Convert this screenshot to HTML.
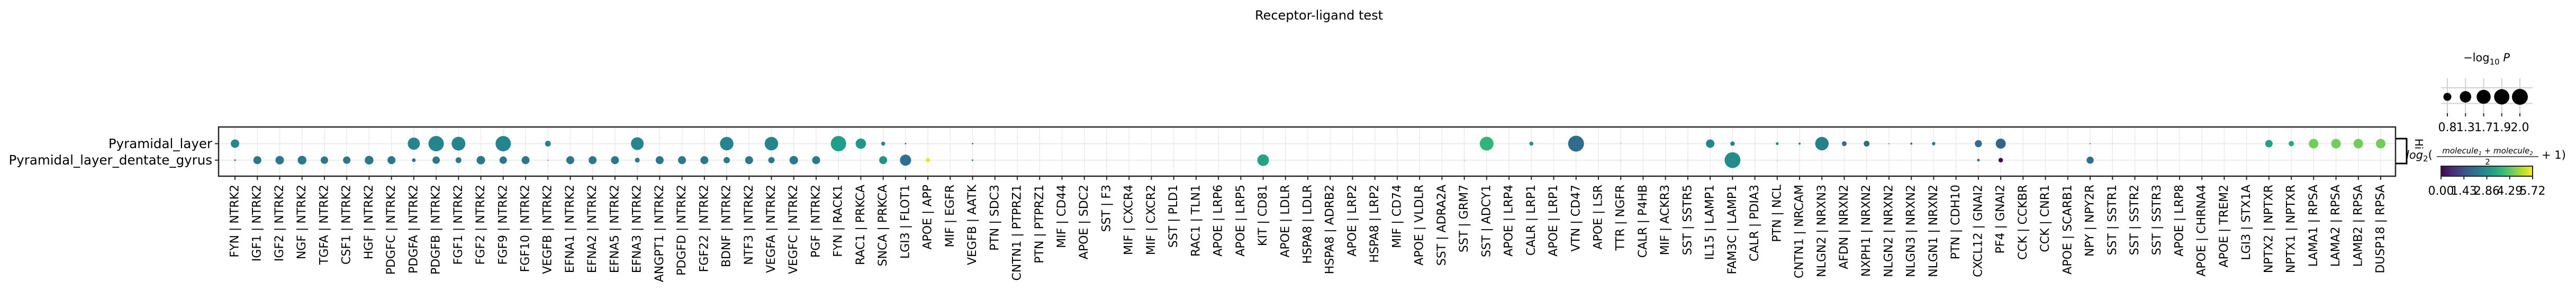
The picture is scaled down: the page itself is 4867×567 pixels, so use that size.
<!DOCTYPE html>
<html><head><meta charset="utf-8">
<style>
html,body{margin:0;padding:0;background:#fff;}
svg{display:block;font-family:"DejaVu Sans","Liberation Sans",sans-serif;}
</style></head>
<body>
<svg id="chart" width="4867" height="567" viewBox="0 0 4867 567" xmlns="http://www.w3.org/2000/svg">
<text x="2492" y="37" font-size="24" text-anchor="middle" fill="#000">Receptor-ligand test</text>
<g id="grid"></g>
<g id="dots"></g>
<rect x="413" y="240" width="4113" height="93" fill="none" stroke="#262626" stroke-width="2.5"/>
<g id="yaxis"></g>
<g id="xaxis"></g>
<g>
<polyline points="4527,262 4547,262 4547,309 4527,309" fill="none" stroke="#000" stroke-width="3"/>
<text transform="translate(4563,272) rotate(90)" font-size="20" text-anchor="middle">Hi</text>
</g>
<g id="size-legend">
<text x="4698" y="116" font-size="21" text-anchor="middle">−log<tspan font-size="15" dy="6">10</tspan><tspan dy="-6" font-style="italic"> P</tspan></text>
</g>
<g id="color-legend">
<text x="4546" y="300" font-size="21" font-style="italic">log<tspan font-style="normal" font-size="15" dy="5">2</tspan><tspan font-style="normal" dy="-5">(</tspan></text>
<text x="4700" y="290" font-size="15" font-style="italic" text-anchor="middle">molecule<tspan font-size="10" dy="3">1</tspan><tspan dy="-3" font-style="normal"> + </tspan>molecule<tspan font-size="10" dy="3">2</tspan></text>
<line x1="4604" y1="296" x2="4796" y2="296" stroke="#000" stroke-width="1.2"/>
<text x="4700" y="311" font-size="15" text-anchor="middle">2</text>
<text x="4802" y="300" font-size="21">+ 1)</text>
<defs><linearGradient id="vir" x1="0" x2="1" y1="0" y2="0"></linearGradient></defs>
<rect x="4612" y="314" width="173" height="19" fill="url(#vir)" stroke="#262626" stroke-width="2"/>
</g>
</svg>
<script>
const labels = ["FYN | NTRK2","IGF1 | NTRK2","IGF2 | NTRK2","NGF | NTRK2","TGFA | NTRK2","CSF1 | NTRK2","HGF | NTRK2","PDGFC | NTRK2","PDGFA | NTRK2","PDGFB | NTRK2","FGF1 | NTRK2","FGF2 | NTRK2","FGF9 | NTRK2","FGF10 | NTRK2","VEGFB | NTRK2","EFNA1 | NTRK2","EFNA2 | NTRK2","EFNA5 | NTRK2","EFNA3 | NTRK2","ANGPT1 | NTRK2","PDGFD | NTRK2","FGF22 | NTRK2","BDNF | NTRK2","NTF3 | NTRK2","VEGFA | NTRK2","VEGFC | NTRK2","PGF | NTRK2","FYN | RACK1","RAC1 | PRKCA","SNCA | PRKCA","LGI3 | FLOT1","APOE | APP","MIF | EGFR","VEGFB | AATK","PTN | SDC3","CNTN1 | PTPRZ1","PTN | PTPRZ1","MIF | CD44","APOE | SDC2","SST | F3","MIF | CXCR4","MIF | CXCR2","SST | PLD1","RAC1 | TLN1","APOE | LRP6","APOE | LRP5","KIT | CD81","APOE | LDLR","HSPA8 | LDLR","HSPA8 | ADRB2","APOE | LRP2","HSPA8 | LRP2","MIF | CD74","APOE | VLDLR","SST | ADRA2A","SST | GRM7","SST | ADCY1","APOE | LRP4","CALR | LRP1","APOE | LRP1","VTN | CD47","APOE | LSR","TTR | NGFR","CALR | P4HB","MIF | ACKR3","SST | SSTR5","IL15 | LAMP1","FAM3C | LAMP1","CALR | PDIA3","PTN | NCL","CNTN1 | NRCAM","NLGN2 | NRXN3","AFDN | NRXN2","NXPH1 | NRXN2","NLGN2 | NRXN2","NLGN3 | NRXN2","NLGN1 | NRXN2","PTN | CDH10","CXCL12 | GNAI2","PF4 | GNAI2","CCK | CCKBR","CCK | CNR1","APOE | SCARB1","NPY | NPY2R","SST | SSTR1","SST | SSTR2","SST | SSTR3","APOE | LRP8","APOE | CHRNA4","APOE | TREM2","LGI3 | STX1A","NPTX2 | NPTXR","NPTX1 | NPTXR","LAMA1 | RPSA","LAMA2 | RPSA","LAMB2 | RPSA","DUSP18 | RPSA"];
const groups = ["Pyramidal_layer","Pyramidal_layer_dentate_gyrus"];
const N = null;
// -log10 P (size) for Pyramidal_layer
const pyrP = [0.87,N,N,N,N,N,N,N,1.40,1.91,1.65,N,1.91,N,0.53,N,N,N,1.49,N,N,N,1.61,N,1.61,N,N,1.91,1.13,0.32,0.095,N,N,0.095,N,N,N,N,N,0.02,N,N,N,N,N,N,N,N,N,N,N,N,N,N,N,N,1.65,N,0.32,N,1.99,N,0.03,N,N,N,0.87,0.38,N,0.21,0.14,1.61,0.41,0.53,0.055,0.14,0.26,N,0.69,1.09,N,N,N,0.055,0.02,N,0.02,N,N,N,N,0.73,0.47,1.02,1.02,1.02,1.02];
// mean expression (color) for Pyramidal_layer
const pyrE = [2.6,N,N,N,N,N,N,N,2.6,2.6,2.6,N,2.6,N,2.6,N,N,N,2.6,N,N,N,2.6,N,2.6,N,N,3.2,3.0,2.6,2.4,N,N,2.4,N,N,N,N,N,2.6,N,N,N,N,N,N,N,N,N,N,N,N,N,N,N,N,3.7,N,2.8,N,2.0,N,2.8,N,N,N,2.6,2.6,N,2.8,2.6,2.5,2.0,2.0,2.4,2.2,2.3,N,2.05,1.85,N,N,N,0.7,2.5,N,2.5,N,N,N,N,3.25,3.4,4.45,4.45,4.45,4.45];
// -log10 P (size) for Pyramidal_layer_dentate_gyrus
const dgP = [0.1,0.8,0.87,0.9,0.73,0.73,0.9,0.8,0.29,0.73,0.53,0.87,0.73,0.8,0.055,0.8,0.8,0.8,0.41,0.8,0.8,0.8,0.59,0.8,0.59,0.87,0.8,N,N,0.8,1.25,0.35,N,0.095,N,N,N,N,N,0.02,N,N,0.02,N,N,N,1.32,N,N,N,N,N,N,N,N,0.03,N,N,N,N,N,N,0.03,N,N,0.02,N,1.99,N,0.03,N,N,N,N,N,N,N,N,0.19,0.38,N,N,N,0.69,0.02,N,0.02,N,N,N,N,N,N,N,N,N,N];
// mean expression (color) for Pyramidal_layer_dentate_gyrus
const dgE = [2.4,2.3,2.3,2.3,2.3,2.3,2.3,2.3,2.3,2.3,2.3,2.3,2.3,2.3,2.3,2.3,2.3,2.3,2.3,2.3,2.3,2.3,2.3,2.3,2.3,2.3,2.3,N,N,2.95,2.1,5.6,N,2.3,N,N,N,N,N,2.5,N,N,2.5,N,N,N,3.3,N,N,N,N,N,N,N,N,2.5,N,N,N,N,N,N,2.8,N,N,2.5,N,2.8,N,2.8,N,N,N,N,N,N,N,N,2.1,0.1,N,N,N,2.05,2.5,N,2.5,N,N,N,N,N,N,N,N,N,N];
const sizeTicks = [0.8,1.3,1.7,1.9,2.0];
const sizeTickLabels = ["0.8","1.3","1.7","1.9","2.0"];
const colorTicks = [0,1.43,2.86,4.29,5.72];
const colorTickLabels = ["0.00","1.43","2.86","4.29","5.72"];

const NS = "http://www.w3.org/2000/svg";
const VIR = ["#440154","#482878","#3e4989","#31688e","#26828e","#1f9e89","#35b779","#6ece58","#b5de2b","#fde725"];
const CMAX = 5.72;
function hex(h){return [1,3,5].map(i=>parseInt(h.substr(i,2),16));}
function color(v){
  let t=Math.max(0,Math.min(1,v/CMAX))*(VIR.length-1);
  let i=Math.min(VIR.length-2,Math.floor(t)),f=t-i;
  let a=hex(VIR[i]),b=hex(VIR[i+1]);
  return "rgb("+a.map((x,k)=>Math.round(x+(b[k]-x)*f)).join(",")+")";
}
function diam(p){return 17.8*Math.pow(p,0.756);}
const X0=444, X1=4498;
function xs(i){return X0+i*(X1-X0)/(labels.length-1);}
const rowY=[271.5,302.7];
function mk(tag,attrs,parent){const e=document.createElementNS(NS,tag);for(const k in attrs)e.setAttribute(k,attrs[k]);parent.appendChild(e);return e;}

const grid=document.getElementById('grid'), dots=document.getElementById('dots'),
      xa=document.getElementById('xaxis'), ya=document.getElementById('yaxis');
labels.forEach((lab,i)=>{
  const x=xs(i);
  const g=mk('line',{x1:x,y1:241,x2:x,y2:332,stroke:'#ebebeb','stroke-width':1.5},grid);
  
  
  const t=mk('line',{x1:x,y1:333,x2:x,y2:340,stroke:'#262626','stroke-width':2},xa);
  
  
  const tx=mk('text',{transform:'translate('+x+',349) rotate(-90)','font-size':22,'text-anchor':'end','dominant-baseline':'central',fill:'#000'},xa);
  tx.textContent=lab;
  
  
});
groups.forEach((gname,r)=>{
  const y=rowY[r];
  const g=mk('line',{x1:414,y1:y,x2:4525,y2:y,stroke:'#ebebeb','stroke-width':2},grid);
  
  
  const t=mk('line',{x1:406,y1:y,x2:413,y2:y,stroke:'#262626','stroke-width':2},ya);
  
  
  const tx=mk('text',{x:401,y:y,'font-size':24.5,'text-anchor':'end','dominant-baseline':'central',fill:'#000'},ya);
  tx.textContent=gname;
  
  
});
function drawRow(P,E,r){
  P.forEach((p,i)=>{
    if(p===null||E[i]===null)return;
    const c=mk('circle',{cx:xs(i),cy:rowY[r],r:diam(p)/2,fill:color(E[i])},dots);
    
    
  });
}
drawRow(pyrP,pyrE,0);
drawRow(dgP,dgE,1);

const sl=document.getElementById('size-legend');
const LX0=4624, LX1=4761;
function lx(i){return LX0+i*(LX1-LX0)/(sizeTicks.length-1);}
[166,195.5].forEach(y=>{const l=mk('line',{x1:4612,y1:y,x2:4785,y2:y,stroke:'#d0d0d0','stroke-width':2},sl);
  
  });
sizeTicks.forEach((v,i)=>{
  const x=lx(i);
  const l=mk('line',{x1:x,y1:148,x2:x,y2:214,stroke:'#d0d0d0','stroke-width':2},sl);
  
  
  const t=mk('line',{x1:x,y1:214,x2:x,y2:220,stroke:'#262626','stroke-width':2},sl);
  
  
  const c=mk('circle',{cx:x,cy:183,r:diam(v)/2,fill:'#000'},sl);
  
  
  const tx=mk('text',{x:x,y:248,'font-size':22,'text-anchor':'middle'},sl);
  tx.textContent=sizeTickLabels[i];
  
  
});
const grad=document.getElementById('vir');
VIR.forEach((c,i)=>{mk('stop',{offset:(i/(VIR.length-1)),'stop-color':c},grad);});
const cl=document.getElementById('color-legend');
colorTicks.forEach((v,i)=>{
  const x=4612+v/CMAX*173;
  const t=mk('line',{x1:x,y1:333,x2:x,y2:339,stroke:'#262626','stroke-width':2},cl);
  
  
  const tx=mk('text',{x:x,y:368,'font-size':22,'text-anchor':'middle'},cl);
  tx.textContent=colorTickLabels[i];
  
  
});
</script>
</body></html>
